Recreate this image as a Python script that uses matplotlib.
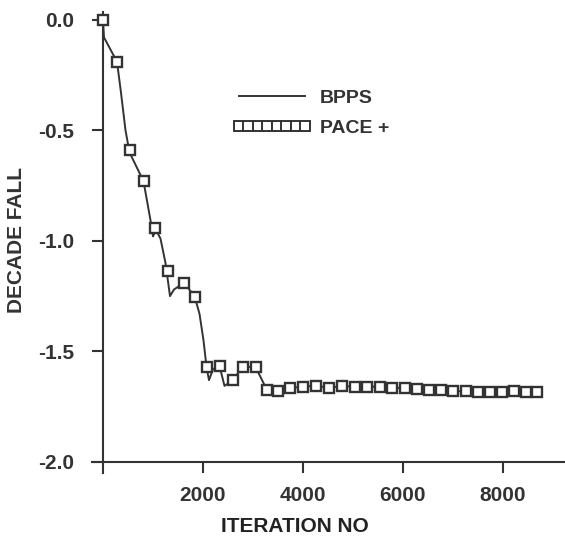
import matplotlib
matplotlib.use("Agg")
import matplotlib.pyplot as plt
from matplotlib.lines import Line2D

plt.rcParams['font.family'] = ['Liberation Sans', 'DejaVu Sans']
plt.rcParams['font.weight'] = 'bold'

# BPPS curve (iteration, decade fall)
bpps_x = [0, 20, 280, 360, 450, 530, 810, 960, 1000, 1060, 1150, 1250, 1340, 1420,
          1620, 1830, 1930, 2010, 2070, 2120, 2200, 2330, 2430, 2600, 2790, 3050,
          3280, 3500, 3740, 4000, 4260, 4520, 4780, 5040, 5280, 5540, 5780, 6040,
          6280, 6520, 6760, 7000, 7260, 7500, 7740, 7980, 8220, 8460, 8680]
bpps_y = [0.0, -0.08, -0.19, -0.33, -0.50, -0.60, -0.73, -0.92, -0.98, -0.95, -0.99,
          -1.10, -1.25, -1.22, -1.19, -1.25, -1.33, -1.45, -1.57, -1.63, -1.58,
          -1.566, -1.656, -1.63, -1.57, -1.57, -1.675, -1.68, -1.665, -1.66, -1.655,
          -1.665, -1.656, -1.66, -1.66, -1.66, -1.665, -1.665, -1.67, -1.675, -1.675,
          -1.68, -1.68, -1.685, -1.685, -1.685, -1.68, -1.685, -1.685]

# PACE + markers
pace_x = [0, 280, 530, 810, 1030, 1300, 1620, 1830, 2070, 2330, 2600, 2790, 3050,
          3280, 3500, 3740, 4000, 4260, 4520, 4780, 5040, 5280, 5540, 5780, 6040,
          6280, 6520, 6760, 7000, 7260, 7500, 7740, 7980, 8220, 8460, 8680]
pace_y = [0.0, -0.19, -0.59, -0.73, -0.94, -1.135, -1.19, -1.255, -1.57, -1.566,
          -1.63, -1.57, -1.57, -1.675, -1.68, -1.665, -1.66, -1.655, -1.665, -1.656,
          -1.66, -1.66, -1.66, -1.665, -1.665, -1.67, -1.675, -1.675, -1.68, -1.68,
          -1.685, -1.685, -1.685, -1.68, -1.685, -1.685]

x_ticks = [2000, 4000, 6000, 8000]
y_ticks = [0.0, -0.5, -1.0, -1.5, -2.0]
y_ticklabels = ['0.0', '-0.5', '-1.0', '-1.5', '-2.0']

ink = '#333333'

fig = plt.figure(figsize=(5.65, 5.37), dpi=100)
ax = fig.add_axes([92 / 565, (537 - 473) / 537, (565 - 92) / 565, (473 - 12) / 537])

ax.plot(bpps_x, bpps_y, color=ink, lw=1.4, zorder=2)
ax.plot(pace_x, pace_y, linestyle='none', marker='s', markersize=7.5,
        markerfacecolor='white', markeredgecolor=ink, markeredgewidth=1.7, zorder=3)

ax.set_xlim(-220, 9240)
ax.set_ylim(-2.05, 0.035)
ax.spines['top'].set_visible(False)
ax.spines['right'].set_visible(False)
ax.spines['left'].set_position(('data', 0))
ax.spines['bottom'].set_position(('data', -2.0))
for s in ('left', 'bottom'):
    ax.spines[s].set_color(ink)
    ax.spines[s].set_linewidth(1.5)

ax.set_xticks(x_ticks)
ax.set_xticklabels([str(v) for v in x_ticks])
ax.set_yticks(y_ticks)
ax.set_yticklabels(y_ticklabels)
ax.tick_params(axis='both', direction='out', length=8, width=1.5, color=ink,
               labelcolor=ink, labelsize=15)
ax.tick_params(axis='y', pad=13)
ax.tick_params(axis='x', pad=9)

fig.text(295 / 565, 1 - 527 / 537, 'ITERATION NO', ha='center', va='center',
         fontsize=15, fontweight='bold', color='#222222')
fig.text(17 / 565, 1 - 240 / 537, 'DECADE FALL', ha='center', va='center',
         rotation=90, fontsize=15, fontweight='bold', color=ink)

handles = [
    Line2D([], [], color=ink, lw=1.4),
    Line2D([], [], linestyle='none', marker='s', markersize=7.0,
           markerfacecolor='white', markeredgecolor=ink, markeredgewidth=1.4),
]
leg = ax.legend(handles, ['BPPS', 'PACE +'], loc='center left',
                bbox_to_anchor=((233 - 92) / 473, (473 - 113) / 461),
                frameon=False, numpoints=8, handlelength=4.0, handletextpad=0.45,
                labelspacing=0.65, borderpad=0, borderaxespad=0,
                prop={'size': 14, 'weight': 'bold'})
for t in leg.get_texts():
    t.set_color(ink)

fig.savefig('out.png', dpi=100)
